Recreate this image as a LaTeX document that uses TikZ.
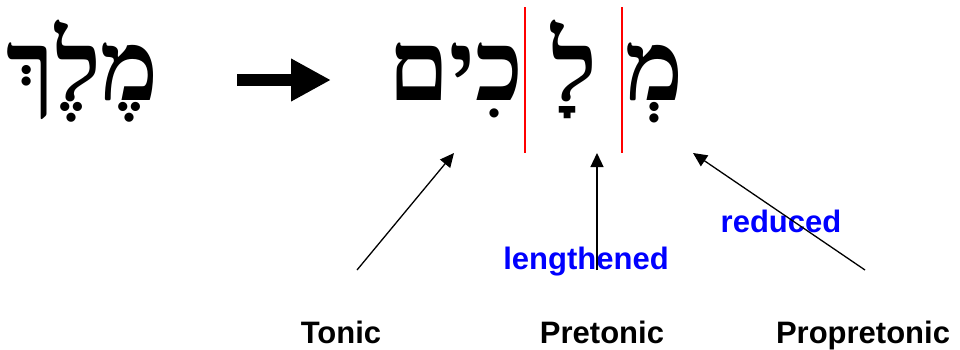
\documentclass[tikz,border=0pt]{standalone}
\usepackage{fontspec}
\setmainfont{Liberation Sans}
\newfontfamily\hebfont[Script=Hebrew]{Liberation Serif}
\TeXXeTstate=1
\usetikzlibrary{arrows.meta}

\begin{document}
\begin{tikzpicture}[
  x=1pt, y=-1pt,
  heb/.style={font=\hebfont\fontsize{98}{100}\selectfont\bfseries, inner sep=0pt, anchor=base},
  term/.style={font=\fontsize{31}{34}\selectfont\bfseries, inner sep=0pt, anchor=base},
  note/.style={term, text=blue},
  arr/.style={-{Triangle[length=14pt,width=13pt]}, line width=1.3pt},
  bigarr/.style={-{Triangle[length=40pt,width=40pt]}, line width=12pt},
  sep/.style={draw=red, line width=1.5pt}
]
\useasboundingbox (0,0) rectangle (960,349);
% ---- singular and plural ----
\node[heb] (sg)  at (83,100)  {\beginR מֶלֶךְ\endR};
\node[heb] (ton) at (456,100) {\beginR כִים\endR};
\node[heb] (pre) at (574,100) {\beginR לָ\endR};
\node[heb] (pro) at (655,100) {\beginR מְ\endR};
\coordinate (bigstart) at (237,80);
\coordinate (bigtip)   at (331,80);
\draw[bigarr] (bigstart) -- (bigtip);
% ---- syllable cuts ----
\coordinate (cutA) at (525,7);   \coordinate (cutA') at (525,153);
\coordinate (cutB) at (622,7);   \coordinate (cutB') at (622,153);
\draw[sep] (cutA) -- (cutA');
\draw[sep] (cutB) -- (cutB');
% ---- labels ----
\node[term] (tonic)  at (341,343) {Tonic};
\node[term] (pret)   at (602,343) {Pretonic};
\node[term] (propr)  at (863,343) {Propretonic};
\node[note] (length) at (586,269) {lengthened};
\node[note] (reduc)  at (781,232) {reduced};
% ---- pointers ----
\coordinate (tonfoot) at (357,270);  \coordinate (tonhead) at (454,153);
\coordinate (prefoot) at (597,270);  \coordinate (prehead) at (597,153);
\coordinate (profoot) at (865,270);  \coordinate (prohead) at (693,153);
\draw[arr] (tonfoot) -- (tonhead);
\draw[arr] (prefoot) -- (prehead);
\draw[arr] (profoot) -- (prohead);
\end{tikzpicture}
\end{document}
